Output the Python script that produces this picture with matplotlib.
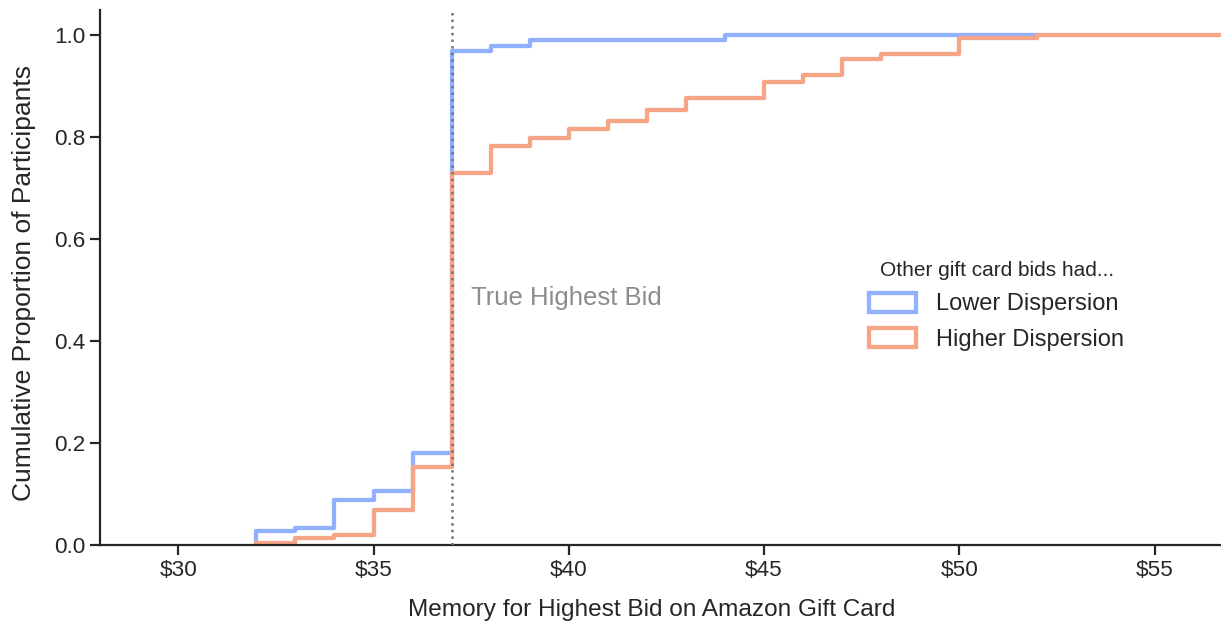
import numpy as np
import matplotlib.pyplot as plt
from matplotlib.patches import Patch
import seaborn as sns

sns.set_style("ticks")
plt.rcParams['font.family'] = ['Liberation Sans', 'DejaVu Sans']

# bid values (bin edges, $) and cumulative proportion reached at each edge
low_bids = [32, 33, 34, 35, 36, 37, 38, 39, 44, 52]
low_cum = [0.028, 0.033, 0.089, 0.106, 0.181, 0.970, 0.980, 0.992, 1.0, 1.0]

high_bids = [32, 33, 34, 35, 36, 37, 38, 39, 40, 41, 42, 43, 45, 46, 47, 48, 50, 52, 60]
high_cum = [0.005, 0.014, 0.020, 0.069, 0.154, 0.730, 0.783, 0.799, 0.817, 0.832,
            0.853, 0.877, 0.909, 0.923, 0.953, 0.963, 0.994, 1.0, 1.0]

true_bid = 37
xticks = [30, 35, 40, 45, 50, 55]
labels = ["Lower Dispersion", "Higher Dispersion"]

blue = plt.cm.coolwarm(0.26)
orange = plt.cm.coolwarm(0.72)

fig = plt.figure(figsize=(12.21, 6.21), dpi=100)
ax = fig.add_axes([0.082, 0.122, 0.918, 0.862])

for bids, cum, col in [(low_bids, low_cum, blue), (high_bids, high_cum, orange)]:
    x = np.concatenate([[bids[0]], bids])
    y = np.concatenate([[0], cum])
    ax.plot(x, y, drawstyle="steps-post", color=col, lw=3.1, zorder=2)

ax.axvline(true_bid, color="0.45", ls=":", lw=1.8, zorder=3)
ax.text(true_bid + 0.5, 0.484, "True Highest Bid", color="0.55", fontsize=18.5,
        va="center", ha="left")

ax.set_xlim(28, 56.7)
ax.set_ylim(0, 1.05)
ax.set_xticks(xticks)
ax.set_xticklabels(["$%d" % t for t in xticks])
ax.set_yticks(np.arange(0, 1.01, 0.2))
ax.tick_params(labelsize=16.2, length=7, width=1.6, colors="0.15")
for s in ["left", "bottom"]:
    ax.spines[s].set_linewidth(1.6)
    ax.spines[s].set_color("0.15")
sns.despine(ax=ax)

ax.set_xlabel("Memory for Highest Bid on Amazon Gift Card", fontsize=17.6, color="0.15")
ax.set_ylabel("Cumulative Proportion of Participants", fontsize=19, color="0.15")
ax.xaxis.set_label_coords(0.492, -0.100)
ax.yaxis.set_label_coords(-0.057, 0.49)

handles = [Patch(facecolor="none", edgecolor=c, lw=3.1) for c in (blue, orange)]
leg = ax.legend(handles, labels, title="Other gift card bids had...", frameon=False,
                fontsize=17, title_fontsize=15, loc="center left",
                bbox_to_anchor=(0.667, 0.447), handlelength=2.0, handleheight=0.85,
                handletextpad=0.85, labelspacing=0.55)
for t in leg.get_texts():
    t.set_color("0.15")
leg.get_title().set_color("0.15")

fig.savefig("out.png", dpi=100)
